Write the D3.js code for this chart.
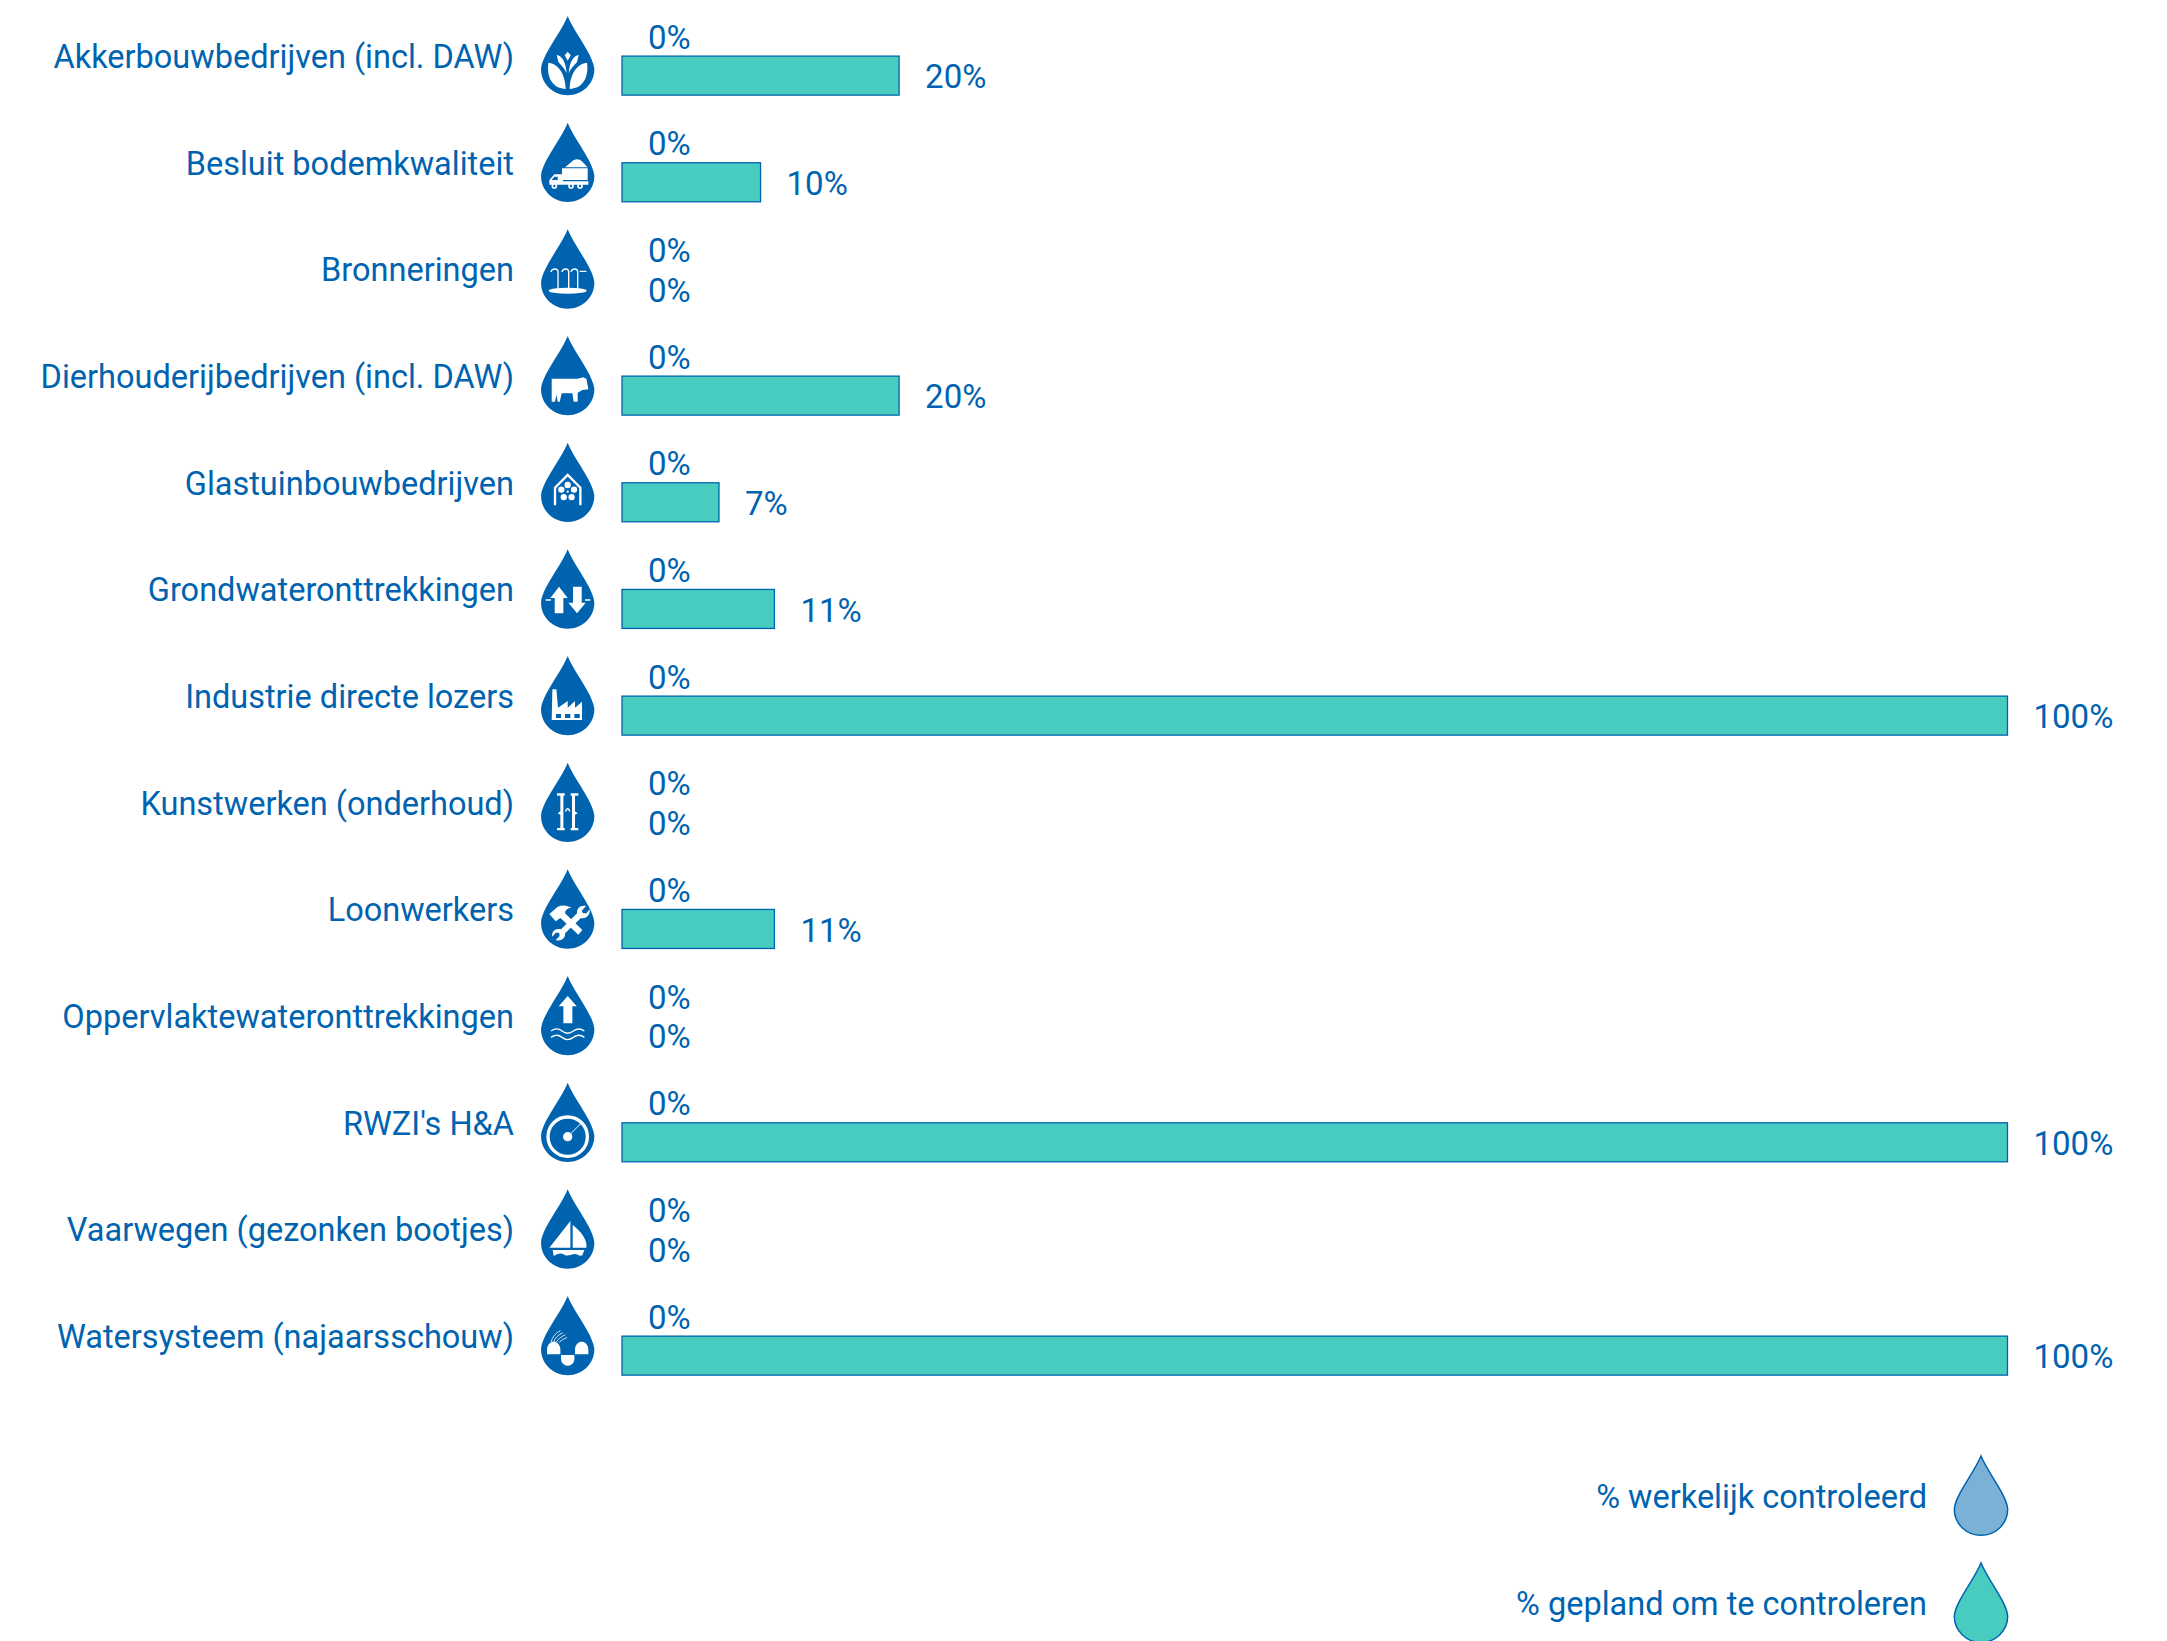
<!DOCTYPE html>
<html><head><meta charset="utf-8">
<script src="https://cdn.jsdelivr.net/npm/d3@7"></script>
<style>html,body{margin:0;padding:0;background:#fff}svg{display:block}
text{font-family:Roboto,sans-serif;font-weight:400;fill:#0063AF}</style></head><body>
<script>
const categories = ["Akkerbouwbedrijven (incl. DAW)","Besluit bodemkwaliteit","Bronneringen","Dierhouderijbedrijven (incl. DAW)","Glastuinbouwbedrijven","Grondwateronttrekkingen","Industrie directe lozers","Kunstwerken (onderhoud)","Loonwerkers","Oppervlaktewateronttrekkingen","RWZI's H&A","Vaarwegen (gezonken bootjes)","Watersysteem (najaarsschouw)"];
const actual  = [0,0,0,0,0,0,0,0,0,0,0,0,0];
const planned = [20,10,0,20,7,11,100,0,11,0,100,0,100];
const seriesNames = ["% werkelijk controleerd","% gepland om te controleren"];
const seriesKeys = ["actual","planned"];
const colors = ["#7BB1D5","#48CCC0"];
const blue = "#0063AF";
const W=2167,H=1641;
const svg=d3.select("body").append("svg").attr("width",W).attr("height",H).attr("viewBox",[0,0,W,H]);
const x=d3.scaleLinear().domain([0,100]).range([622,2007.5]);
const step=106.67, rowH=79.6;
const y=d3.scaleBand().domain(categories).range([15.5,15.5+step*(categories.length-1)+rowH]).paddingInner(1-rowH/step).paddingOuter(0);
const yi=d3.scaleBand().domain(seriesKeys).range([0,y.bandwidth()]);
const color=d3.scaleOrdinal().domain(seriesKeys).range(colors);
const FS=32.5, VFS=33;
const drop="M0 0C20 50 78 118 80 160C80 205 42 238 0 238C-42 238 -80 205 -80 160C-78 118 -20 50 0 0Z";

// Icon glyphs, in drop-local units (one unit = 1/3 px)
const icons=[
 g=>{ // plant
  g.append("path").attr("fill","#fff").attr("d","M-58 140C-30 142-7 172-6 219C-42 216-64 190-58 140ZM58 140C30 142 7 172 6 219C42 216 64 190 58 140ZM0 107L9 118L0 134L-9 118ZM-33 117C-18 120-6 134-3 172C-10 154-26 142-28 138ZM33 117C18 120 6 134 3 172C10 154 26 142 28 138Z");
 },
 g=>{ // truck
  g.append("path").attr("fill","#fff").attr("d","M-17 137H60V172H-17ZM-8 134C5 125 15 110 28 110C42 110 50 125 60 134ZM-22 155H-14V176H62V186H-55V172L-40 155Z");
  g.append("path").attr("fill",blue).attr("d","M-40 162H-30V172H-48Z");
  [-40,10,37].forEach(c=>g.append("circle").attr("cx",c).attr("cy",190).attr("r",6).attr("fill",blue).attr("stroke","#fff").attr("stroke-width",5));
 },
 g=>{ // wells
  g.append("ellipse").attr("cx",0).attr("cy",184).attr("rx",57).attr("ry",9).attr("fill","#fff");
  g.append("path").attr("fill","none").attr("stroke","#fff").attr("stroke-width",4).attr("d","M-29 180V128C-29 116-48 116-50 128M3 180V128C3 116-15 116-17 128M30 180V128C30 116 12 116 10 128M36 126H56");
 },
 g=>{ // cow
  g.append("path").attr("fill","#fff").attr("d","M-48 128L30 128L46 124L56 128L62 160L44 162L30 170V197H18L14 172L-18 172L-24 197H-30L-34 176L-38 197H-48Z");
 },
 g=>{ // greenhouse
  g.append("path").attr("fill","none").attr("stroke","#fff").attr("stroke-width",7).attr("d","M-38 188V135L0 97L38 135V188");
  d3.range(5).forEach(i=>{const a=-Math.PI/2+i*2*Math.PI/5;g.append("circle").attr("cx",20*Math.cos(a)).attr("cy",147+20*Math.sin(a)).attr("r",9.5).attr("fill","#fff");});
  g.append("circle").attr("cx",0).attr("cy",147).attr("r",3.5).attr("fill","#fff");
 },
 g=>{ // arrows
  g.append("path").attr("fill","#fff").attr("d","M-26 112L0 146H-13V192H-39V146H-52ZM16 112H42V160H54L28 192L2 160H16ZM-66 150H-50V154H-66ZM52 150H68V154H52Z");
 },
 g=>{ // factory
  g.append("path").attr("fill","#fff").attr("d","M-46 100H-34L-29 155L0 135V155L22 135V155L43 137V192H-48Z");
  [[-35,-20],[-8,8],[20,36]].forEach(r=>g.append("rect").attr("x",r[0]).attr("y",174).attr("width",r[1]-r[0]).attr("height",12).attr("fill",blue));
 },
 g=>{ // lock
  g.append("path").attr("fill","#fff").attr("d","M-32 92H-9V99H-13V196H-9V203H-32V196H-22V99H-32ZM32 92H9V99H13V196H9V203H32V196H22V99H32ZM-8 148C-6 132 6 132 8 148L4 146L0 140L-4 146ZM-30 152L-22 146V156ZM30 152L22 146V156Z");
 },
 g=>{ // tools
  g.append("path").attr("fill","#fff").attr("d","M-55 134L-30 112C-15 106 0 108 12 116C0 116-8 122-8 132L44 182L32 196L-22 146L-36 156Z");
  g.append("path").attr("fill","#fff").attr("d","M-20 180L28 132C26 118 38 106 55 110L42 124L46 132L56 132L66 120C68 136 56 150 40 146L-8 192C-6 206-20 218-36 212L-24 200L-26 190L-36 190L-46 202C-50 186-36 176-20 180Z");
 },
 g=>{ // surface water
  g.append("path").attr("fill","#fff").attr("d","M0 60L27 91H14V142H-13V91H-27Z");
  g.append("path").attr("fill","none").attr("stroke","#fff").attr("stroke-width",4).attr("d","M-50 165C-38 156-28 156-17 165S5 174 17 165S38 156 50 165M-50 184C-38 175-28 175-17 184S5 193 17 184S38 175 50 184");
 },
 g=>{ // gauge
  g.append("circle").attr("cx",0).attr("cy",162).attr("r",59).attr("fill","none").attr("stroke","#fff").attr("stroke-width",10);
  g.append("circle").attr("cx",0).attr("cy",162).attr("r",14).attr("fill","#fff");
  g.append("path").attr("stroke","#fff").attr("stroke-width",3).attr("d","M0 162L40 122");
 },
 g=>{ // boat
  g.append("path").attr("fill","#fff").attr("d","M8 95V175H-55ZM15 107C38 125 60 150 56 175H15ZM-45 182H50L44 198C35 202 28 192 18 194S0 202-10 196S-30 192-42 200Z");
 },
 g=>{ // water system
  g.append("path").attr("fill","#fff").attr("d","M-62 175V160C-60 130-24 130-22 160V175ZM22 175V160C24 130 60 130 62 160V175ZM-20 177H20V190C18 216-18 216-20 190Z");
  g.append("path").attr("fill","none").attr("stroke","#fff").attr("stroke-width",2.5).attr("d","M-50 138C-46 122-35 110-22 104M-42 138C-38 126-28 116-15 110M-34 138C-30 130-20 122-7 116M-26 140C-22 134-14 130-2 124");
 }
];

const row=svg.selectAll("g.row").data(categories).join("g").attr("class","row");
row.append("text").attr("x",514).attr("y",d=>y(d)+52.5).attr("text-anchor","end").attr("font-size",FS).text(d=>d);
row.each(function(d,i){
  const g=d3.select(this).append("g").attr("transform",`translate(567.7,${y(d)+0.5}) scale(${1/3})`);
  g.append("path").attr("d",drop).attr("fill",blue);
  icons[i](g);
  const vals={actual:actual[i],planned:planned[i]};
  seriesKeys.forEach(k=>{
    const top=y(d)+yi(k);
    d3.select(this).append("rect").attr("x",x(0)).attr("y",top+(k==="planned"?0.8:0)).attr("width",x(vals[k])-x(0)).attr("height",yi.bandwidth()-(k==="planned"?0.8:0))
      .attr("fill",color(k)).attr("stroke",blue).attr("stroke-width",1.3);
    d3.select(this).append("text").attr("x",x(vals[k])+26).attr("y",top+33).attr("font-size",VFS).text(vals[k]+"%");
  });
});

const legendY=[1456,1563];
seriesNames.forEach((n,i)=>{
  const g=svg.append("g");
  g.append("text").attr("x",1927).attr("y",legendY[i]+52).attr("text-anchor","end").attr("font-size",FS).text(n);
  g.append("path").attr("d",drop).attr("transform",`translate(1981,${legendY[i]}) scale(${1/3})`).attr("fill",colors[i]).attr("stroke",blue).attr("stroke-width",4.5);
});
</script></body></html>
